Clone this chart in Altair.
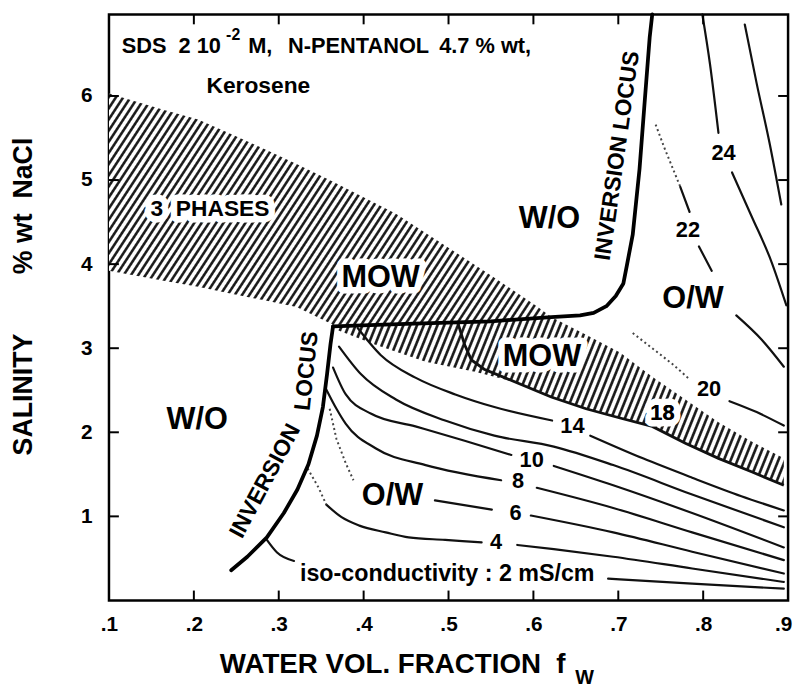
import math
import altair as alt
import pandas as pd

FONT = "Liberation Sans"
W, H = 686, 592
NB = "\u00a0"

# ---------------- data ----------------
x_tick_values = [0.1, 0.2, 0.3, 0.4, 0.5, 0.6, 0.7, 0.8, 0.9]
y_tick_values = [1, 2, 3, 4, 5, 6]
inner_x_ticks = [0.2, 0.3, 0.4, 0.5, 0.6, 0.7, 0.8]

# upper three-phase (hatched) band
upper_band_x = [0.100, 0.166, 0.205, 0.243, 0.283, 0.321, 0.364, 0.438, 0.484, 0.551, 0.604, 0.620]
upper_band_top = [6.03, 5.83, 5.72, 5.55, 5.37, 5.19, 4.98, 4.60, 4.30, 3.86, 3.50, 3.38]
upper_band_bottom = [3.92, 3.80, 3.73, 3.65, 3.57, 3.49, 3.28, 3.29, 3.30, 3.32, 3.35, 3.37]

# lower three-phase (hatched) band
lower_band_x = [0.368, 0.414, 0.473, 0.531, 0.577, 0.621, 0.662, 0.702, 0.740, 0.779, 0.818, 0.857, 0.895]
lower_band_top = [3.26, 3.27, 3.29, 3.30, 3.33, 3.37, 3.16, 2.95, 2.66, 2.39, 2.12, 1.89, 1.69]
lower_band_bottom = [3.22, 3.04, 2.84, 2.72, 2.60, 2.42, 2.28, 2.17, 2.07, 1.87, 1.69, 1.53, 1.37]

# inversion loci
inversion_upper = [(0.364, 3.26), (0.45, 3.29), (0.55, 3.32), (0.621, 3.37), (0.655, 3.39), (0.671, 3.42),
                   (0.686, 3.50), (0.697, 3.62), (0.706, 3.77), (0.710, 3.98), (0.717, 4.35), (0.725, 5.13),
                   (0.731, 5.92), (0.737, 6.70), (0.740, 6.97)]
inversion_lower = [(0.364, 3.26), (0.361, 3.05), (0.357, 2.70), (0.352, 2.30), (0.345, 1.96), (0.335, 1.62),
                   (0.322, 1.32), (0.306, 1.04), (0.286, 0.75), (0.263, 0.52), (0.244, 0.36)]

# dark lower boundary of the MOW band
mow_boundary = [(0.511, 3.30), (0.519, 3.04), (0.527, 2.86), (0.542, 2.75), (0.566, 2.65), (0.621, 2.42),
                (0.662, 2.28), (0.702, 2.17), (0.740, 2.07), (0.779, 1.87), (0.818, 1.69), (0.857, 1.53),
                (0.895, 1.37)]

# iso-conductivity lines (mS/cm)
iso2_left = [(0.286, 0.72), (0.298, 0.57), (0.318, 0.47)]
iso2_right = [(0.688, 0.26), (0.787, 0.20), (0.895, 0.14)]
iso4_dotted = [(0.334, 1.57), (0.347, 1.34), (0.356, 1.14)]
iso4_left = [(0.356, 1.14), (0.374, 0.99), (0.395, 0.89), (0.426, 0.81), (0.453, 0.75), (0.496, 0.72), (0.539, 0.69)]
iso4_right = [(0.581, 0.66), (0.624, 0.61), (0.694, 0.52), (0.787, 0.38), (0.895, 0.22)]
iso6_dotted = [(0.360, 2.28), (0.368, 1.92), (0.379, 1.63), (0.388, 1.43)]
iso6_mid = [(0.484, 1.19), (0.551, 1.08)]
iso6_right = [(0.597, 1.01), (0.694, 0.81), (0.787, 0.58), (0.895, 0.32)]
iso8_left = [(0.356, 2.51), (0.368, 2.28), (0.379, 2.10), (0.414, 1.81), (0.473, 1.61), (0.562, 1.43)]
iso8_right = [(0.604, 1.34), (0.694, 1.10), (0.787, 0.81), (0.895, 0.48)]
iso10_left = [(0.364, 2.77), (0.379, 2.45), (0.409, 2.22), (0.461, 2.07), (0.519, 1.90), (0.574, 1.73)]
iso10_right = [(0.624, 1.60), (0.694, 1.37), (0.787, 1.04), (0.895, 0.63)]
iso12 = [(0.371, 3.02), (0.397, 2.69), (0.438, 2.39), (0.496, 2.14), (0.554, 1.96), (0.624, 1.83),
         (0.694, 1.61), (0.787, 1.26), (0.895, 0.87)]
iso14_left = [(0.393, 3.24), (0.420, 2.92), (0.461, 2.65), (0.508, 2.45), (0.554, 2.30), (0.622, 2.14)]
iso14_right = [(0.667, 1.96), (0.729, 1.69), (0.787, 1.46), (0.845, 1.24), (0.895, 1.07)]
iso20_dotted = [(0.717, 3.18), (0.740, 3.00), (0.764, 2.81), (0.784, 2.63)]
iso20_right = [(0.831, 2.37), (0.863, 2.24), (0.895, 2.08)]
iso22_dotted = [(0.744, 5.66), (0.754, 5.39), (0.773, 4.92)]
iso22_a = [(0.773, 4.92), (0.784, 4.62)]
iso22_b = [(0.795, 4.21), (0.810, 3.92)]
iso22_c = [(0.839, 3.39), (0.869, 3.10), (0.895, 2.78)]
iso24_top = [(0.799, 6.97), (0.808, 6.38), (0.818, 5.56)]
iso24_bottom = [(0.834, 5.09), (0.857, 4.57), (0.880, 4.04), (0.898, 3.51)]
iso26 = [(0.849, 6.85), (0.863, 6.15), (0.878, 5.45), (0.892, 4.71)]

# curve labels
number_text = ["24", "22", "20", "18", "14", "10", "8", "6", "4"]
number_x = [0.824, 0.782, 0.807, 0.752, 0.646, 0.598, 0.582, 0.579, 0.556]
number_y = [5.32, 4.41, 2.51, 2.23, 2.07, 1.67, 1.42, 1.04, 0.69]

region_text = ["W/O", "W/O", "O/W", "O/W"]
region_x = [0.204, 0.619, 0.434, 0.788]
region_y = [2.14, 4.53, 1.24, 3.59]

halo_text = ["MOW", "MOW", "3" + NB + NB + "PHASES", "18"]
halo_x = [0.420, 0.610, 0.219, 0.752]
halo_y = [3.83, 2.90, 4.66, 2.23]
halo_size = [31, 31, 23, 22]

locus_text = ["INVERSION LOCUS", "INVERSION", "LOCUS"]
locus_x = [0.699, 0.284, 0.333]
locus_y = [5.29, 1.42, 2.73]
locus_angle = [278, 298, 276]

header_text = ["SDS" + NB + NB + "2" + NB + "10", "M,", "N-PENTANOL", "4.7 % wt,"]
header_x = [0.115, 0.264, 0.311, 0.489]


# ---------------- helpers ----------------
def hatch_fill(w_px, h_px, angle_deg, period_px, ink="#1c1c1c", paper="#ffffff"):
    th = math.radians(angle_deg)
    r = (h_px / w_px) / math.tan(th)
    s = (1 + r) / (1 + r * r)
    a, b = s, s * r
    dt_per_px = a / (w_px * (a * a + b * b))
    step = (period_px / math.sin(th)) * dt_per_px
    stops = []
    k = 0
    while k * step < 1:
        o = k * step
        for frac, col in ((0.0, paper), (0.18, ink), (0.42, ink), (0.6, paper)):
            off = min(o + frac * step, 1.0)
            stops.append(alt.GradientStop(color=col, offset=round(off, 5)))
        k += 1
    return alt.LinearGradient(gradient="linear", x1=0, y1=0, x2=round(a, 4), y2=round(b, 4), stops=stops)


def to_df(segments):
    rows = []
    for name, pts in segments:
        for i, (x, y) in enumerate(pts):
            rows.append({"seg": name, "i": i, "x": x, "y": y})
    return pd.DataFrame(rows)


xscale = alt.Scale(domain=[0.1, 0.9], nice=False, zero=False)
yscale = alt.Scale(domain=[0, 6.97], nice=False, zero=False)
X = alt.X("x:Q", scale=xscale,
          axis=alt.Axis(values=x_tick_values, labelExpr="substring(format(datum.value, '.1f'), 1)",
                        title=None, labelPadding=13, labelFlush=False, labelOverlap=False,
                        labelOffset={"condition": {"test": "datum.value > 0.85", "value": -5}, "value": 0}))
Y = alt.Y("y:Q", scale=yscale,
          axis=alt.Axis(values=y_tick_values, format="d", title=None, labelPadding=17))

# ---------------- layers ----------------
up_df = pd.DataFrame({"x": upper_band_x, "y": upper_band_top, "y2": upper_band_bottom})
lo_df = pd.DataFrame({"x": lower_band_x, "y": lower_band_top, "y2": lower_band_bottom})

band_up = alt.Chart(up_df).mark_area(fill=hatch_fill(447, 236, 57, 6.2), opacity=1).encode(
    x=X, y=Y, y2="y2:Q")
band_lo = alt.Chart(lo_df).mark_area(fill=hatch_fill(453, 170, 68, 6.4), opacity=1).encode(
    x=X, y=Y, y2="y2:Q")

solid_df = to_df([
    ("iso2_left", iso2_left), ("iso2_right", iso2_right), ("iso4_left", iso4_left), ("iso4_right", iso4_right),
    ("iso6_mid", iso6_mid), ("iso6_right", iso6_right), ("iso8_left", iso8_left), ("iso8_right", iso8_right),
    ("iso10_left", iso10_left), ("iso10_right", iso10_right), ("iso12", iso12),
    ("iso14_left", iso14_left), ("iso14_right", iso14_right), ("iso20_right", iso20_right),
    ("iso22_a", iso22_a), ("iso22_b", iso22_b), ("iso22_c", iso22_c),
    ("iso24_top", iso24_top), ("iso24_bottom", iso24_bottom), ("iso26", iso26),
])
dotted_df = to_df([("iso4_dotted", iso4_dotted), ("iso6_dotted", iso6_dotted),
                   ("iso20_dotted", iso20_dotted), ("iso22_dotted", iso22_dotted)])
locus_df = to_df([("inv_upper", inversion_upper), ("inv_lower", inversion_lower)])
edge_df = to_df([("mow_boundary", mow_boundary)])

solid = alt.Chart(solid_df).mark_line(color="#111111", strokeWidth=2.2, strokeCap="round",
                                      interpolate="monotone").encode(
    x=X, y=Y, detail="seg:N", order="i:Q")
dotted = alt.Chart(dotted_df).mark_line(color="#444444", strokeWidth=2, strokeDash=[2, 3]).encode(
    x=X, y=Y, detail="seg:N", order="i:Q")
edge = alt.Chart(edge_df).mark_line(color="#111111", strokeWidth=2.8).encode(
    x=X, y=Y, detail="seg:N", order="i:Q")
locus = alt.Chart(locus_df).mark_line(color="black", strokeWidth=3.8, strokeCap="round",
                                      strokeJoin="round").encode(
    x=X, y=Y, detail="seg:N", order="i:Q")

# inward ticks on all four sides
xt_df = pd.DataFrame({"x": inner_x_ticks})
yt_df = pd.DataFrame({"y": y_tick_values})
tick_b = alt.Chart(xt_df).mark_rule(color="black", strokeWidth=2).encode(
    x=X, y=alt.value(H), y2=alt.value(H - 10))
tick_t = alt.Chart(xt_df).mark_rule(color="black", strokeWidth=2).encode(
    x=X, y=alt.value(0), y2=alt.value(10))
tick_l = alt.Chart(yt_df).mark_rule(color="black", strokeWidth=2).encode(
    y=Y, x=alt.value(0), x2=alt.value(10))
tick_r = alt.Chart(yt_df).mark_rule(color="black", strokeWidth=2).encode(
    y=Y, x=alt.value(W), x2=alt.value(W - 10))

# text
num_df = pd.DataFrame({"x": number_x, "y": number_y, "t": number_text})
nums = alt.Chart(num_df).mark_text(font=FONT, fontWeight="bold", fontSize=22, color="black").encode(
    x=X, y=Y, text="t:N")

reg_df = pd.DataFrame({"x": region_x, "y": region_y, "t": region_text})
regs = alt.Chart(reg_df).mark_text(font=FONT, fontWeight="bold", fontSize=31, color="black").encode(
    x=X, y=Y, text="t:N")

halo_df = pd.DataFrame({"x": halo_x, "y": halo_y, "t": halo_text, "fs": halo_size})
halo_bg = alt.Chart(halo_df).mark_text(font=FONT, fontWeight="bold", color="white", stroke="white",
                                       strokeWidth=13, strokeJoin="round").encode(
    x=X, y=Y, text="t:N", size=alt.Size("fs:Q", scale=None, legend=None))
halo_fg = alt.Chart(halo_df).mark_text(font=FONT, fontWeight="bold", color="black").encode(
    x=X, y=Y, text="t:N", size=alt.Size("fs:Q", scale=None, legend=None))

loc_df = pd.DataFrame({"x": locus_x, "y": locus_y, "t": locus_text, "a": locus_angle})
locs = alt.Chart(loc_df).mark_text(font=FONT, fontWeight="bold", fontSize=23, color="black").encode(
    x=X, y=Y, text="t:N", angle=alt.Angle("a:Q", scale=None))

iso_df = pd.DataFrame({"x": [0.325], "y": [0.31], "t": ["iso-conductivity : 2 mS/cm"]})
iso_txt = alt.Chart(iso_df).mark_text(font=FONT, fontWeight="bold", fontSize=23.5, align="left",
                                      color="black").encode(x=X, y=Y, text="t:N")

head_df = pd.DataFrame({"x": header_x, "y": [6.51] * len(header_x), "t": header_text})
head = alt.Chart(head_df).mark_text(font=FONT, fontWeight="bold", fontSize=22, align="left",
                                    baseline="alphabetic", color="black").encode(x=X, y=Y, text="t:N")
sup_df = pd.DataFrame({"x": [0.238], "y": [6.67], "t": ["-2"]})
sup = alt.Chart(sup_df).mark_text(font=FONT, fontWeight="bold", fontSize=16, align="left",
                                  baseline="alphabetic", color="black").encode(x=X, y=Y, text="t:N")
ker_df = pd.DataFrame({"x": [0.276], "y": [6.03], "t": ["Kerosene"]})
ker = alt.Chart(ker_df).mark_text(font=FONT, fontWeight="bold", fontSize=23, baseline="alphabetic",
                                  color="black").encode(x=X, y=Y, text="t:N")

# axis titles
ytitle = alt.Chart(pd.DataFrame({"t": ["SALINITY" + NB * 8 + "% wt" + NB * 2 + "NaCl"]})).mark_text(
    font=FONT, fontWeight="bold", fontSize=27, angle=270, color="black").encode(
    x=alt.value(-86), y=alt.value(285), text="t:N")
xtitle = alt.Chart(pd.DataFrame({"t": ["WATER VOL. FRACTION" + NB * 2 + "f"]})).mark_text(
    font=FONT, fontWeight="bold", fontSize=28, align="left", baseline="alphabetic", color="black").encode(
    x=alt.value(112), y=alt.value(665), text="t:N")
xsub = alt.Chart(pd.DataFrame({"t": ["W"]})).mark_text(
    font=FONT, fontWeight="bold", fontSize=20, align="left", baseline="alphabetic", color="black").encode(
    x=alt.value(471), y=alt.value(676), text="t:N")

chart = alt.layer(
    band_up, band_lo, edge, solid, dotted, locus,
    tick_b, tick_t, tick_l, tick_r,
    halo_bg, halo_fg, nums, regs, locs, iso_txt, head, sup, ker,
    ytitle, xtitle, xsub,
).properties(
    width=W, height=H,
    padding={"left": 102, "top": 3, "right": 7, "bottom": 89},
    autosize=alt.AutoSizeParams(type="none"),
    background="white",
).configure_view(
    stroke="black", strokeWidth=2.5,
).configure_axis(
    labelFont=FONT, labelFontSize=21, labelFontWeight="bold", labelColor="black",
    ticks=False, tickSize=0, domain=False, grid=False,
)

chart.save("out.html", embed_options={"renderer": "svg", "actions": False})
